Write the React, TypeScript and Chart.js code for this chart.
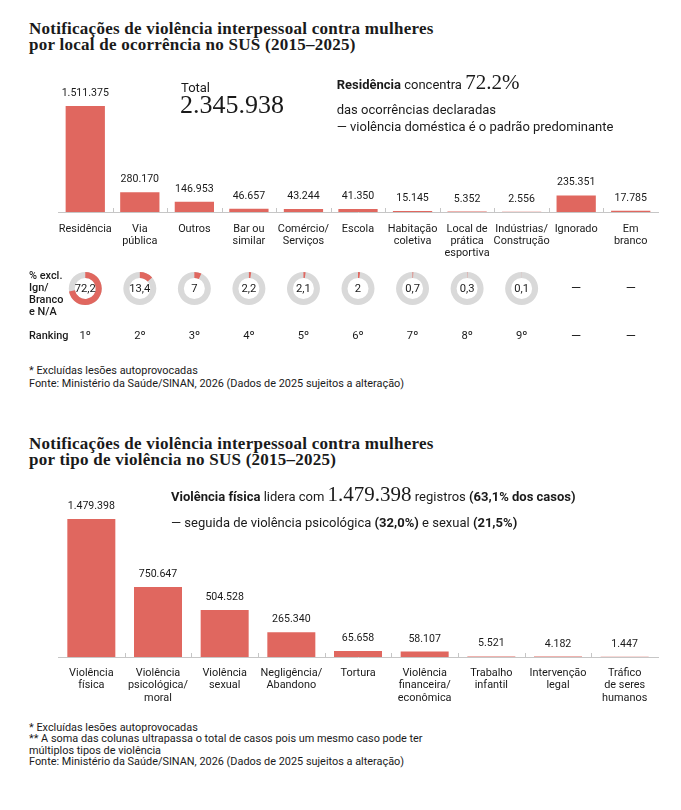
import React, { useEffect, useRef } from "react";
import { Chart, registerables } from "chart.js";

Chart.register(...registerables);

// ---------------- data ----------------
const localCategories: string[][] = [
  ["Residência"],
  ["Via", "pública"],
  ["Outros"],
  ["Bar ou", "similar"],
  ["Comércio/", "Serviços"],
  ["Escola"],
  ["Habitação", "coletiva"],
  ["Local de", "prática", "esportiva"],
  ["Indústrias/", "Construção"],
  ["Ignorado"],
  ["Em", "branco"],
];
const localValues = [1511375, 280170, 146953, 46657, 43244, 41350, 15145, 5352, 2556, 235351, 17785];
const localShares: (number | null)[] = [72.2, 13.4, 7, 2.2, 2.1, 2, 0.7, 0.3, 0.1, null, null];
const localRanking: (string | null)[] = ["1º", "2º", "3º", "4º", "5º", "6º", "7º", "8º", "9º", null, null];
const localTotal = 2345938;

const typeCategories: string[][] = [
  ["Violência", "física"],
  ["Violência", "psicológica/", "moral"],
  ["Violência", "sexual"],
  ["Negligência/", "Abandono"],
  ["Tortura"],
  ["Violência", "financeira/", "econômica"],
  ["Trabalho", "infantil"],
  ["Intervenção", "legal"],
  ["Tráfico", "de seres", "humanos"],
];
const typeValues = [1479398, 750647, 504528, 265340, 65658, 58107, 5521, 4182, 1447];

// ---------------- styles ----------------
const RED = "#e0675f";
const RING = "#d9d9d9";
const AXIS = "#c6c6c6";
const INK = "#1a1a1a";
const SANS = "Roboto, 'Noto Sans', sans-serif";
const SERIF = "'Liberation Serif', 'DejaVu Serif', serif";
const LABEL_SIZE = 10.9;

const fmt = (n: number) => String(n).replace(/\B(?=(\d{3})+(?!\d))/g, ".");
const fmtDec = (n: number) => String(n).replace(".", ",");

// ---------------- plugins ----------------
const valueLabels = {
  id: "valueLabels",
  afterDatasetsDraw(chart: any) {
    const ctx = chart.ctx;
    const meta = chart.getDatasetMeta(0);
    const data = chart.data.datasets[0].data as number[];
    ctx.save();
    ctx.font = `10.6px ${SANS}`;
    ctx.fillStyle = INK;
    ctx.textAlign = "center";
    ctx.textBaseline = "alphabetic";
    meta.data.forEach((bar: any, i: number) => {
      ctx.fillText(fmt(data[i]), bar.x, bar.y - 10);
    });
    ctx.restore();
  },
};

const tickMarks = {
  id: "tickMarks",
  afterDraw(chart: any) {
    const xs = chart.scales.x;
    const ctx = chart.ctx;
    const n = chart.data.labels.length;
    ctx.save();
    ctx.strokeStyle = AXIS;
    ctx.lineWidth = 1;
    for (let i = 1; i < n; i++) {
      const x = Math.round((xs.getPixelForValue(i - 1) + xs.getPixelForValue(i)) / 2) + 0.5;
      ctx.beginPath();
      ctx.moveTo(x, xs.top);
      ctx.lineTo(x, xs.top - 4);
      ctx.stroke();
    }
    ctx.restore();
  },
};

const shareRows = {
  id: "shareRows",
  afterDraw(chart: any) {
    const xs = chart.scales.x;
    const ctx = chart.ctx;
    const axisY = xs.top;
    const donutY = axisY + 76.5;
    const rankY = axisY + 124.5;
    const rOut = 16.5;
    const rIn = 10.5;
    ctx.save();
    // row titles
    ctx.fillStyle = INK;
    ctx.textAlign = "left";
    ctx.textBaseline = "middle";
    ctx.font = `500 ${LABEL_SIZE}px ${SANS}`;
    ["% excl.", "Ign/", "Branco", "e N/A"].forEach((t, k) => ctx.fillText(t, 29, donutY - 12 + k * 12));
    ctx.fillText("Ranking", 29, rankY);

    localShares.forEach((share, i) => {
      const x = xs.getPixelForValue(i);
      if (share == null) {
        ctx.fillStyle = INK;
        ctx.textAlign = "center";
        ctx.font = `13px ${SANS}`;
        ctx.fillText("—", x, donutY);
      } else {
        ctx.beginPath();
        ctx.arc(x, donutY, rOut, 0, Math.PI * 2);
        ctx.arc(x, donutY, rIn, Math.PI * 2, 0, true);
        ctx.fillStyle = RING;
        ctx.fill();
        const a0 = -Math.PI / 2;
        const a1 = a0 + (Math.PI * 2 * share) / 100;
        ctx.beginPath();
        ctx.arc(x, donutY, rOut, a0, a1);
        ctx.arc(x, donutY, rIn, a1, a0, true);
        ctx.closePath();
        ctx.fillStyle = RED;
        ctx.fill();
        ctx.fillStyle = INK;
        ctx.textAlign = "center";
        ctx.font = `11.2px ${SANS}`;
        ctx.fillText(fmtDec(share), x, donutY + 0.5);
      }
      const rank = localRanking[i];
      ctx.textAlign = "center";
      ctx.fillStyle = INK;
      if (rank == null) {
        ctx.font = `13px ${SANS}`;
        ctx.fillText("—", x, rankY);
      } else {
        ctx.font = `11.2px ${SANS}`;
        ctx.fillText(rank, x, rankY);
      }
    });
    ctx.restore();
  },
};

function makeBarConfig(
  labels: string[][],
  values: number[],
  yMax: number,
  padding: { left: number; right: number; top: number; bottom: number },
  tickPadding: number,
  lineHeightPx: number,
  barPct: number,
  extra: any[]
) {
  return {
    type: "bar" as const,
    data: {
      labels,
      datasets: [
        {
          data: values,
          backgroundColor: RED,
          borderWidth: 0,
          categoryPercentage: 1,
          barPercentage: barPct,
        },
      ],
    },
    options: {
      responsive: false,
      animation: false as const,
      layout: { padding },
      plugins: { legend: { display: false }, tooltip: { enabled: false } },
      scales: {
        x: {
          grid: { display: true, drawOnChartArea: false, drawTicks: false },
          border: { display: true, color: AXIS, width: 1 },
          ticks: {
            autoSkip: false,
            maxRotation: 0,
            minRotation: 0,
            padding: tickPadding,
            color: INK,
            font: { family: SANS, size: LABEL_SIZE, lineHeight: lineHeightPx / LABEL_SIZE },
          },
        },
        y: { display: false, min: 0, max: yMax },
      },
    },
    plugins: [valueLabels, tickMarks, ...extra],
  };
}

function BarCanvas({ top, height, config }: { top: number; height: number; config: any }) {
  const ref = useRef<HTMLCanvasElement | null>(null);
  useEffect(() => {
    if (!ref.current) return;
    const chart = new Chart(ref.current, config);
    return () => chart.destroy();
  }, []);
  return (
    <canvas
      ref={ref}
      width={681}
      height={height}
      style={{ position: "absolute", left: 0, top, width: 681, height }}
    />
  );
}

const ANN = 13;

function Txt({ left, top, style, children }: { left: number; top: number; style?: any; children: any }) {
  return (
    <div style={{ position: "absolute", left, top, whiteSpace: "nowrap", ...style }}>{children}</div>
  );
}

export default function App() {
  const topConfig = makeBarConfig(
    localCategories,
    localValues,
    1882000,
    { left: 58, right: 23, top: 20, bottom: 90 },
    11,
    12,
    0.72,
    [shareRows]
  );
  const bottomConfig = makeBarConfig(
    typeCategories,
    typeValues,
    1683000,
    { left: 58, right: 23, top: 20, bottom: 6 },
    9.75,
    12.5,
    0.72,
    []
  );

  const titleStyle = {
    fontFamily: SERIF,
    fontWeight: 700,
    fontSize: 17,
    letterSpacing: 0.25,
    lineHeight: "16px",
    color: INK,
  };
  const noteStyle = { fontFamily: SANS, fontSize: LABEL_SIZE, color: INK };
  const annStyle = { fontFamily: SANS, fontSize: ANN, color: INK, lineHeight: "normal" };

  return (
    <div
      style={{
        position: "absolute",
        left: 0,
        top: 0,
        width: 681,
        height: 810,
        background: "#fff",
        fontFamily: SANS,
        color: INK,
        overflow: "hidden",
      }}
    >
      <BarCanvas top={60} height={300} config={topConfig} />
      <BarCanvas top={480} height={240} config={bottomConfig} />

      {/* Chart 1 title */}
      <Txt left={29} top={21.3} style={titleStyle}>
        Notificações de violência interpessoal contra mulheres
        <br />
        por local de ocorrência no SUS (2015–2025)
      </Txt>

      {/* Chart 1 annotations */}
      <Txt left={181} top={79.6} style={annStyle}>
        Total
      </Txt>
      <Txt left={180} top={89.6} style={{ fontFamily: SERIF, fontSize: 26, lineHeight: "normal", color: INK }}>
        {fmt(localTotal)}
      </Txt>
      <Txt left={336.7} top={70.3} style={annStyle}>
        <span style={{ fontWeight: 700 }}>Residência</span> concentra{" "}
        <span style={{ fontFamily: SERIF, fontSize: 21 }}>72.2%</span>
      </Txt>
      <Txt left={336.7} top={102.2} style={annStyle}>
        das ocorrências declaradas
      </Txt>
      <Txt left={336.7} top={118.6} style={annStyle}>
        — violência doméstica é o padrão predominante
      </Txt>

      {/* Chart 1 notes */}
      <Txt left={29} top={365} style={{ ...noteStyle, lineHeight: "12.6px" }}>
        * Excluídas lesões autoprovocadas
        <br />
        Fonte: Ministério da Saúde/SINAN, 2026 (Dados de 2025 sujeitos a alteração)
      </Txt>

      {/* Chart 2 title */}
      <Txt left={29} top={436.3} style={titleStyle}>
        Notificações de violência interpessoal contra mulheres
        <br />
        por tipo de violência no SUS (2015–2025)
      </Txt>

      {/* Chart 2 annotations */}
      <Txt left={171} top={481.9} style={annStyle}>
        <span style={{ fontWeight: 700 }}>Violência física</span> lidera com{" "}
        <span style={{ fontFamily: SERIF, fontSize: 21 }}>{fmt(typeValues[0])}</span> registros{" "}
        <span style={{ fontWeight: 700 }}>(63,1% dos casos)</span>
      </Txt>
      <Txt left={171} top={514.6} style={annStyle}>
        — seguida de violência psicológica <span style={{ fontWeight: 700 }}>(32,0%)</span> e sexual{" "}
        <span style={{ fontWeight: 700 }}>(21,5%)</span>
      </Txt>

      {/* Chart 2 notes */}
      <Txt left={29} top={721.5} style={{ ...noteStyle, lineHeight: "11.6px" }}>
        * Excluídas lesões autoprovocadas
        <br />
        ** A soma das colunas ultrapassa o total de casos pois um mesmo caso pode ter
        <br />
        múltiplos tipos de violência
        <br />
        Fonte: Ministério da Saúde/SINAN, 2026 (Dados de 2025 sujeitos a alteração)
      </Txt>
    </div>
  );
}
